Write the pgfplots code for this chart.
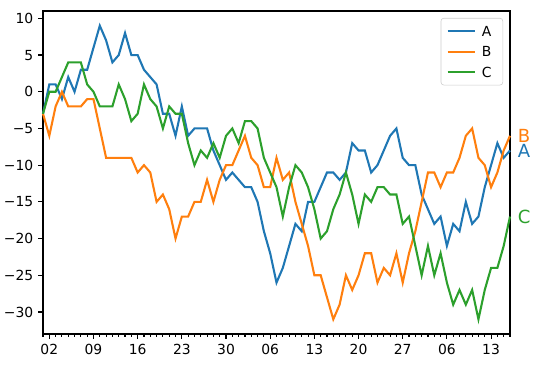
\documentclass[border=0pt]{standalone}
\usepackage{fontspec}
\setmainfont{DejaVu Sans}
\usepackage{pgfplots}
\pgfplotsset{compat=1.18}
\definecolor{tabblue}{HTML}{1F77B4}
\definecolor{taborange}{HTML}{FF7F0E}
\definecolor{tabgreen}{HTML}{2CA02C}
\begin{document}
\begin{tikzpicture}
\begin{axis}[
  scale only axis,
  clip=false,
  width=336.24pt, height=232.56pt,
  xmin=0, xmax=74, ymin=-33, ymax=11,
  axis line style={line width=0.8pt},
  tick style={line width=0.8pt, black},
  tick align=outside,
  major tick length=3.5pt,
  minor tick length=2pt,
  xtick pos=bottom, ytick pos=left,
  xtick={1,8,15,22,29,36,43,50,57,64,71},
  xticklabels={02,09,16,23,30,06,13,20,27,06,13},
  minor xtick={0,1,...,74},
  ytick={-30,-25,-20,-15,-10,-5,0,5,10},
  yticklabels={−30,−25,−20,−15,−10,−5,0,5,10},
  ticklabel style={font=\fontsize{10}{12}\selectfont},
  /pgf/number format/assume math mode=true,
  legend cell align=left,
  legend image code/.code={\draw[#1] (0pt,0pt) -- (20pt,0pt);},
  legend style={at={(rel axis cs:1,1)}, anchor=north east, xshift=-5pt, yshift=-5pt,
    draw=black!20, rounded corners=2pt, fill=white, fill opacity=0.8, text opacity=1,
    inner xsep=4pt, inner ysep=2pt,
    font=\fontsize{10}{12}\selectfont,
    nodes={inner xsep=4pt, inner ysep=3.6pt, text height=7.5pt, text depth=0pt}},
  every axis plot/.append style={line width=1.5pt},
]
\addplot[tabblue] coordinates {
(0,-3)(1,1)(2,1)(3,-1)(4,2)(5,0)(6,3)(7,3)(8,6)(9,9)(10,7)(11,4)(12,5)(13,8)(14,5)(15,5)(16,3)(17,2)(18,1)(19,-3)
(20,-3)(21,-6)(22,-2)(23,-6)(24,-5)(25,-5)(26,-5)(27,-8)(28,-10)(29,-12)(30,-11)(31,-12)(32,-13)(33,-13)(34,-15)(35,-19)(36,-22)(37,-26)
(38,-24)(39,-21)(40,-18)(41,-19)(42,-15)(43,-15)(44,-13)(45,-11)(46,-11)(47,-12)(48,-11)(49,-7)(50,-8)(51,-8)(52,-11)(53,-10)(54,-8)(55,-6)(56,-5)
(57,-9)(58,-10)(59,-10)(60,-14)(61,-16)(62,-18)(63,-17)(64,-21)(65,-18)(66,-19)(67,-15)(68,-18)(69,-17)(70,-13)(71,-10)(72,-7)(73,-9)(74,-8)
} node[pos=1, anchor=west, inner sep=0pt, xshift=5pt, text=tabblue, font=\fontsize{13}{15}\selectfont] {A};
\addlegendentry{A}
\addplot[taborange] coordinates {
(0,-3)(1,-6)(2,-2)(3,0)(4,-2)(5,-2)(6,-2)(7,-1)(8,-1)(9,-5)(10,-9)(11,-9)(12,-9)(13,-9)(14,-9)(15,-11)(16,-10)(17,-11)(18,-15)(19,-14)
(20,-16)(21,-20)(22,-17)(23,-17)(24,-15)(25,-15)(26,-12)(27,-15)(28,-12)(29,-10)(30,-10)(31,-8)(32,-6)(33,-9)(34,-10)(35,-13)(36,-13)(37,-9)
(38,-12)(39,-11)(40,-15)(41,-18)(42,-21)(43,-25)(44,-25)(45,-28)(46,-31)(47,-29)(48,-25)(49,-27)(50,-25)(51,-22)(52,-22)(53,-26)(54,-24)(55,-25)(56,-22)
(57,-26)(58,-22)(59,-19)(60,-15)(61,-11)(62,-11)(63,-13)(64,-11)(65,-11)(66,-9)(67,-6)(68,-5)(69,-9)(70,-10)(71,-13)(72,-11)(73,-8)(74,-6)
} node[pos=1, anchor=west, inner sep=0pt, xshift=5pt, text=taborange, font=\fontsize{13}{15}\selectfont] {B};
\addlegendentry{B}
\addplot[tabgreen] coordinates {
(0,-3)(1,0)(2,0)(3,2)(4,4)(5,4)(6,4)(7,1)(8,0)(9,-2)(10,-2)(11,-2)(12,1)(13,-1)(14,-4)(15,-3)(16,1)(17,-1)(18,-2)(19,-5)
(20,-2)(21,-3)(22,-3)(23,-7)(24,-10)(25,-8)(26,-9)(27,-7)(28,-9)(29,-6)(30,-5)(31,-7)(32,-4)(33,-4)(34,-5)(35,-9)(36,-11)(37,-13)
(38,-17)(39,-13)(40,-10)(41,-11)(42,-13)(43,-16)(44,-20)(45,-19)(46,-16)(47,-14)(48,-11)(49,-14)(50,-18)(51,-14)(52,-15)(53,-13)(54,-13)(55,-14)(56,-14)
(57,-18)(58,-17)(59,-21)(60,-25)(61,-21)(62,-25)(63,-22)(64,-26)(65,-29)(66,-27)(67,-29)(68,-27)(69,-31)(70,-27)(71,-24)(72,-24)(73,-21)(74,-17)
} node[pos=1, anchor=west, inner sep=0pt, xshift=5pt, text=tabgreen, font=\fontsize{13}{15}\selectfont] {C};
\addlegendentry{C}
\end{axis}
\pgfresetboundingbox
\path (-30.96pt,-21.6pt) rectangle (359.28pt,240.48pt);
\end{tikzpicture}
\end{document}
